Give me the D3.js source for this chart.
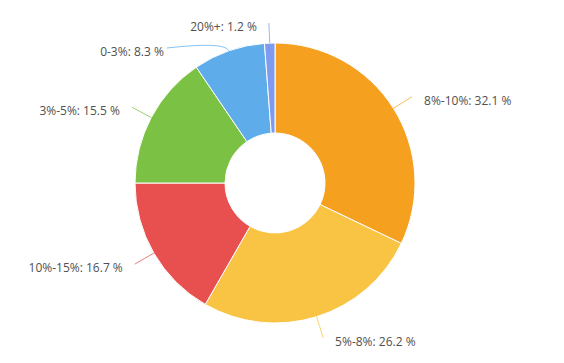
<!DOCTYPE html>
<html lang="en">
<head>
    <meta charset="UTF-8">
    <title>Donut</title>
    <script src="https://d3js.org/d3.v7.min.js"></script>
    <style>
        body { margin: 0; background: #fff; }
        text {
            font-family: 'Open Sans', sans-serif;
            font-size: 12px;
            fill: #505050;
        }
    </style>
</head>
<body>
<script>
    const width  = 564;
    const height = 363;
    const cx = 275, cy = 183;
    const outerR = 140, innerR = 50;
    const labelR = 162;

    const categories = ["8%-10%", "5%-8%", "10%-15%", "3%-5%", "0-3%", "20%+"];
    const values     = [32.1, 26.2, 16.7, 15.5, 8.3, 1.2];
    const colors     = ["#f5a01f", "#f9c443", "#e8504f", "#7bc143", "#5eadea", "#7f9bef"];

    const data = categories.map((c, i) => ({name: c, value: values[i], color: colors[i]}));

    const svg = d3.select("body").append("svg").attr("width", width).attr("height", height);
    const g = svg.append("g").attr("transform", "translate(" + [cx, cy] + ")");

    const pie = d3.pie().sort(null).value(d => d.value);
    const arc = d3.arc().innerRadius(innerR).outerRadius(outerR);
    const arcs = pie(data);

    g.selectAll(".slice")
        .data(arcs)
        .enter()
        .append("path").attr("class", "slice")
        .attr("d", arc)
        .attr("fill", d => d.data.color)
        .attr("stroke", "#fff")
        .attr("stroke-width", 1);

    // label layout: natural position at mid angle, then push apart on each side
    const labels = arcs.map(d => {
        const a = (d.startAngle + d.endAngle) / 2;
        return {
            d: d, a: a, gap: 12,
            left: Math.sin(a) < 0,
            x: labelR * Math.sin(a),
            y: -labelR * Math.cos(a)
        };
    });
    labels.forEach(l => l.y0 = l.y);
    [true, false].forEach(side => {
        const list = labels.filter(l => l.left === side).sort((p, q) => p.y - q.y);
        let prev = -cy + 23 - 25;
        list.forEach(l => {
            if (l.y < prev + 25) l.y = prev + 25;
            prev = l.y;
        });
    });
    labels.forEach(l => {
        if (Math.abs(l.y - l.y0) > 5) {
            const dx = Math.sqrt(Math.max(0, 173 * 173 - l.y * l.y));
            l.x = l.left ? -dx : dx;
            l.gap = 3;
        }
    });

    labels.forEach(l => {
        const ex = outerR * Math.sin(l.a), ey = -outerR * Math.cos(l.a);
        const bx = (outerR + 10) * Math.sin(l.a), by = -(outerR + 10) * Math.cos(l.a);
        const p = d3.path();
        p.moveTo(ex, ey);
        p.quadraticCurveTo(bx, by, l.x, l.y);
        g.append("path")
            .attr("d", p.toString())
            .attr("fill", "none")
            .attr("stroke", l.d.data.color)
            .attr("stroke-opacity", 0.75)
            .attr("stroke-width", 1);
        g.append("text")
            .text(l.d.data.name + ": " + l.d.data.value.toFixed(1) + " %")
            .attr("x", l.x + (l.left ? -l.gap : l.gap))
            .attr("y", l.y + 4)
            .attr("dy", "0.35em")
            .attr("text-anchor", l.left ? "end" : "start");
    });
</script>
</body>
</html>
